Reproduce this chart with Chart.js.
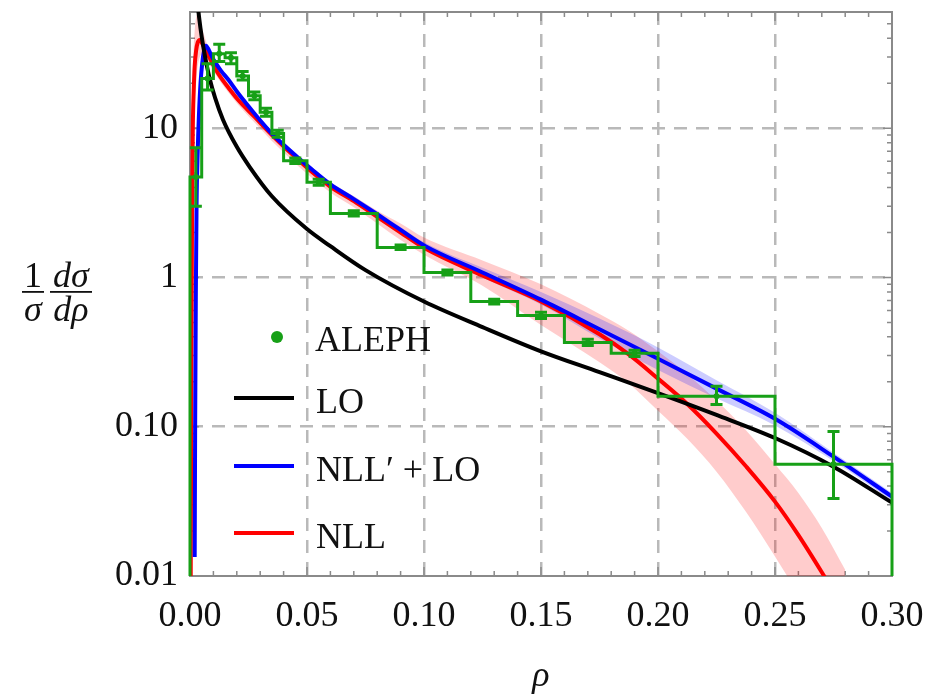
<!DOCTYPE html>
<html>
<head>
<meta charset="utf-8">
<script src="https://cdn.jsdelivr.net/npm/chart.js@4.4.1/dist/chart.umd.min.js"></script>
<style>
  html, body { margin: 0; padding: 0; background: #fff; }
</style>
</head>
<body>
<canvas id="rhoChart" width="937" height="694"></canvas>
<script>
// ALEPH heavy jet mass data (histogram bins)
const alephEdges = [0, 0.005, 0.01, 0.015, 0.02, 0.025, 0.03, 0.035, 0.04, 0.05, 0.06, 0.08, 0.10, 0.12, 0.14, 0.16, 0.18, 0.20, 0.25, 0.30];
const alephValues = [4.7, 21.5, 31.5, 29.6, 22.4, 16.5, 12.8, 9.2, 6.06, 4.34, 2.68, 1.59, 1.08, 0.69, 0.557, 0.367, 0.31, 0.16, 0.056];
const alephErrLow = [3.0, 18, 28, 27, 21, 15.5, 12, 8.7, 5.8, 4.15, 2.58, 1.54, 1.04, 0.665, 0.53, 0.35, 0.295, 0.141, 0.033];
const alephErrHigh = [7.4, 27, 36.5, 32, 24, 17.5, 13.6, 9.7, 6.3, 4.55, 2.8, 1.65, 1.12, 0.715, 0.585, 0.385, 0.325, 0.187, 0.093];

// LO curve
const loRho = [0.002, 0.003, 0.004, 0.005, 0.0064, 0.0084, 0.0107, 0.0141, 0.02, 0.0256, 0.035, 0.05, 0.06, 0.075, 0.1, 0.125, 0.15, 0.175, 0.2, 0.225, 0.25, 0.275, 0.3];
const loValues = [120, 75, 53.5, 41, 30.4, 21.5, 16, 11.4, 7.5, 5.47, 3.5, 2.11, 1.62, 1.12, 0.69, 0.465, 0.32, 0.232, 0.168, 0.12, 0.084, 0.054, 0.031];

// NLL' + LO curve with its uncertainty band
const nllpRho = [0.002, 0.0022, 0.0025, 0.0028, 0.0033, 0.0038, 0.0045, 0.0052, 0.006, 0.0068, 0.0078, 0.0092, 0.0105, 0.0132, 0.0165, 0.0205, 0.0276, 0.035, 0.044, 0.052, 0.06, 0.07, 0.08, 0.09, 0.1, 0.125, 0.15, 0.175, 0.2, 0.225, 0.25, 0.275, 0.3];
const nllpValues = [0.0134, 0.1, 0.8, 3, 7, 12, 20, 27, 33, 35.6, 34, 30.5, 28, 24.3, 21.0, 17.2, 12.5, 9.2, 6.8, 5.3, 4.2, 3.35, 2.65, 2.08, 1.64, 1.08, 0.71, 0.45, 0.285, 0.18, 0.113, 0.063, 0.034];
const nllpLow = [0.0128, 0.096, 0.77, 2.88, 6.7, 11.5, 19.2, 26, 31.7, 34.2, 32.6, 29.3, 26.9, 23.3, 20.2, 16.5, 12.0, 8.8, 6.5, 5.08, 4.02, 3.2, 2.53, 1.98, 1.56, 1.0, 0.66, 0.39, 0.24, 0.155, 0.102, 0.059, 0.032];
const nllpHigh = [0.014, 0.104, 0.83, 3.12, 7.3, 12.5, 20.8, 28, 34.3, 37, 35.4, 31.7, 29.1, 25.3, 21.8, 17.9, 13.0, 9.6, 7.1, 5.52, 4.38, 3.5, 2.77, 2.18, 1.72, 1.16, 0.80, 0.53, 0.34, 0.205, 0.124, 0.067, 0.036];

// NLL curve with its uncertainty band
const nllRho = [0.0003, 0.0006, 0.0009, 0.0012, 0.0016, 0.002, 0.0026, 0.0033, 0.0042, 0.005, 0.006, 0.0077, 0.0105, 0.0132, 0.0165, 0.0205, 0.0276, 0.035, 0.044, 0.052, 0.06, 0.07, 0.08, 0.09, 0.1, 0.125, 0.15, 0.175, 0.1875, 0.2, 0.2125, 0.225, 0.2375, 0.25, 0.26, 0.27, 0.28];
const nllValues = [0.008, 0.3, 3, 10, 18, 26, 33, 37.5, 39, 37.5, 35, 31, 25.5, 21.8, 18.6, 15.5, 11.9, 9, 6.6, 5.1, 4.05, 3.25, 2.55, 2.0, 1.58, 1.03, 0.69, 0.416, 0.305, 0.21, 0.142, 0.09, 0.0545, 0.0315, 0.0188, 0.0106, 0.0058];
const nllLow = [0.003, 0.03, 0.5, 3, 8, 14, 20, 26, 30, 31, 30, 28, 23.5, 20.2, 17.3, 14.4, 10.9, 8.2, 6.0, 4.65, 3.7, 2.95, 2.3, 1.78, 1.42, 0.88, 0.48, 0.27, 0.195, 0.128, 0.083, 0.05, 0.027, 0.0135, 0.0075, 0.004, 0.002];
const nllHigh = [0.03, 2, 10, 22, 35, 45, 55, 58, 55, 48, 42, 35, 28, 23.5, 19.9, 16.6, 12.6, 9.5, 7.0, 5.45, 4.35, 3.5, 2.8, 2.3, 1.85, 1.3, 0.9, 0.57, 0.44, 0.32, 0.225, 0.15, 0.095, 0.056, 0.036, 0.021, 0.011];

// axis ticks
const xTickLabels = ['0.00', '0.05', '0.10', '0.15', '0.20', '0.25', '0.30'];
const yTickValues = [0.01, 0.1, 1, 10];
const yTickLabels = ['0.01', '0.10', '1', '10'];

const alephColor = '#17a017';
const gridColor = 'rgba(185,185,185,1)';
const frameColor = '#8a8a8a';
const serif = '"Liberation Serif", "DejaVu Serif", serif';

function toPoints(xs, ys) {
  return xs.map((x, i) => ({ x: x, y: ys[i] }));
}

// step outline of the histogram, built from the bin edges
const histPoints = [{ x: alephEdges[0], y: 0.005 }];
alephValues.forEach((v, i) => {
  histPoints.push({ x: alephEdges[i], y: v });
  histPoints.push({ x: alephEdges[i + 1], y: v });
});
histPoints.push({ x: alephEdges[alephEdges.length - 1], y: 0.005 });

const alephCenters = alephValues.map((v, i) => ({ x: (alephEdges[i] + alephEdges[i + 1]) / 2, y: v }));

function isDecade(v) {
  const l = Math.log10(v);
  return Math.abs(l - Math.round(l)) < 1e-6;
}

// keep the plot box where the layout padding puts it
function noScalePadding(s) {
  s.paddingTop = 0;
  s.paddingBottom = 0;
  s.paddingLeft = 0;
  s.paddingRight = 0;
}

// frame and inward tick marks
const axisDecor = {
  id: 'axisDecor',
  beforeDatasetsDraw(chart) {
    const { ctx, chartArea: a, scales: { x, y } } = chart;
    ctx.save();
    ctx.strokeStyle = frameColor;
    ctx.lineWidth = 1.5;
    ctx.beginPath();
    for (let i = 1; i < 30; i++) {
      const px = x.getPixelForValue(i / 100);
      const len = i % 5 === 0 ? 9 : 5;
      ctx.moveTo(px, a.bottom); ctx.lineTo(px, a.bottom - len);
      ctx.moveTo(px, a.top); ctx.lineTo(px, a.top + len);
    }
    for (let d = -2; d <= 1; d++) {
      for (let m = 1; m <= 9; m++) {
        const v = m * Math.pow(10, d);
        if (v >= y.max) break;
        const py = y.getPixelForValue(v);
        const len = m === 1 ? 9 : 5;
        ctx.moveTo(a.left, py); ctx.lineTo(a.left + len, py);
        ctx.moveTo(a.right, py); ctx.lineTo(a.right - len, py);
      }
    }
    ctx.stroke();
    ctx.lineWidth = 2;
    ctx.strokeRect(a.left, a.top, a.right - a.left, a.bottom - a.top);
    ctx.restore();
  }
};

// ALEPH error bars
const errorBars = {
  id: 'errorBars',
  afterDatasetsDraw(chart) {
    const { ctx, scales: { x, y } } = chart;
    ctx.save();
    ctx.strokeStyle = alephColor;
    ctx.lineWidth = 3;
    alephValues.forEach((v, i) => {
      const cx = x.getPixelForValue((alephEdges[i] + alephEdges[i + 1]) / 2);
      const yl = y.getPixelForValue(alephErrLow[i]);
      const yh = y.getPixelForValue(alephErrHigh[i]);
      ctx.beginPath();
      ctx.moveTo(cx, yl); ctx.lineTo(cx, yh);
      ctx.moveTo(cx - 6, yl); ctx.lineTo(cx + 6, yl);
      ctx.moveTo(cx - 6, yh); ctx.lineTo(cx + 6, yh);
      ctx.stroke();
    });
    ctx.restore();
  }
};

// legend, axis titles
const labels = {
  id: 'labels',
  afterDraw(chart) {
    const ctx = chart.ctx;
    ctx.save();
    ctx.fillStyle = '#111';
    ctx.textBaseline = 'alphabetic';

    // y title: 1/sigma dsigma/drho
    ctx.textAlign = 'center';
    ctx.font = '36px ' + serif;
    ctx.fillText('1', 33, 287);
    ctx.fillRect(22, 291, 22, 1.8);
    ctx.fillRect(50, 291, 42, 1.8);
    ctx.font = 'italic 36px ' + serif;
    ctx.fillText('σ', 33, 321);
    ctx.fillText('dσ', 71, 287);
    ctx.fillText('dρ', 71, 321);

    // x title
    ctx.fillText('ρ', 541, 686);

    // legend
    ctx.textAlign = 'left';
    ctx.font = '36px ' + serif;
    ctx.fillStyle = alephColor;
    ctx.beginPath();
    ctx.arc(277, 337, 6, 0, Math.PI * 2);
    ctx.fill();
    const rows = [
      { color: '#000', y: 398, text: 'LO', base: 413 },
      { color: '#0000ff', y: 466, text: 'NLL′ + LO', base: 481 },
      { color: '#ff0000', y: 533, text: 'NLL', base: 548 }
    ];
    ctx.lineWidth = 4;
    rows.forEach(r => {
      ctx.strokeStyle = r.color;
      ctx.beginPath();
      ctx.moveTo(234, r.y); ctx.lineTo(294, r.y);
      ctx.stroke();
    });
    ctx.fillStyle = '#111';
    ctx.fillText('ALEPH', 315, 351);
    rows.forEach(r => ctx.fillText(r.text, 316, r.base));
    ctx.restore();
  }
};

const curveOpts = { pointRadius: 0, borderWidth: 4, cubicInterpolationMode: 'monotone', fill: false };
const bandOpts = { pointRadius: 0, borderWidth: 0, cubicInterpolationMode: 'monotone' };

const ctx = document.getElementById('rhoChart').getContext('2d');
const rhoChart = new Chart(ctx, {
  type: 'line',
  data: {
    datasets: [
      { label: 'ALEPH points', data: alephCenters, showLine: false, pointRadius: 3, pointBackgroundColor: alephColor, pointBorderWidth: 0, order: 0 },
      { label: 'ALEPH', data: histPoints, borderColor: alephColor, borderWidth: 3, pointRadius: 0, tension: 0, fill: false, order: 1, clip: { left: 2, right: 4, top: 0, bottom: 0 } },
      { label: 'LO', data: toPoints(loRho, loValues), borderColor: '#000', ...curveOpts, order: 2 },
      { label: "NLL' + LO", data: toPoints(nllpRho, nllpValues), borderColor: '#0000ff', ...curveOpts, order: 3 },
      { label: 'NLL', data: toPoints(nllRho, nllValues), borderColor: '#ff0000', ...curveOpts, order: 4 },
      { label: 'nllp high', data: toPoints(nllpRho, nllpHigh), ...bandOpts, fill: false, order: 5 },
      { label: 'nllp low', data: toPoints(nllpRho, nllpLow), ...bandOpts, fill: '-1', backgroundColor: 'rgba(0,0,255,0.2)', order: 5 },
      { label: 'nll high', data: toPoints(nllRho, nllHigh), ...bandOpts, fill: false, order: 6 },
      { label: 'nll low', data: toPoints(nllRho, nllLow), ...bandOpts, fill: '-1', backgroundColor: 'rgba(255,0,0,0.2)', order: 6 }
    ]
  },
  options: {
    responsive: false,
    animation: false,
    devicePixelRatio: 1,
    layout: { padding: { top: 12, right: 45, left: 0, bottom: 0 } },
    plugins: { legend: { display: false }, tooltip: { enabled: false } },
    scales: {
      x: {
        type: 'linear',
        min: 0,
        max: 0.3,
        afterFit: s => { s.height = 118; noScalePadding(s); },
        ticks: {
          stepSize: 0.05,
          autoSkip: false,
          maxRotation: 0,
          padding: 19,
          color: '#111',
          font: { family: serif, size: 36 },
          callback: (v) => xTickLabels[Math.round(v / 0.05)] ?? ''
        },
        grid: {
          drawTicks: false,
          lineWidth: 2.5,
          color: c => (c.tick && c.tick.value > 0.001 && c.tick.value < 0.299) ? gridColor : 'rgba(0,0,0,0)'
        },
        border: { display: false, dash: [13, 9] }
      },
      y: {
        type: 'logarithmic',
        min: 0.01,
        max: 60,
        afterFit: s => { s.width = 190; noScalePadding(s); },
        ticks: {
          autoSkip: false,
          padding: 12,
          color: '#111',
          font: { family: serif, size: 36 },
          callback: (v) => {
            const k = yTickValues.findIndex(t => Math.abs(t - v) / t < 1e-6);
            return k >= 0 ? yTickLabels[k] : '';
          }
        },
        grid: {
          drawTicks: false,
          lineWidth: 2.5,
          color: c => (c.tick && isDecade(c.tick.value) && c.tick.value > 0.011 && c.tick.value < 59) ? gridColor : 'rgba(0,0,0,0)'
        },
        border: { display: false, dash: [13, 9] }
      }
    }
  },
  plugins: [axisDecor, errorBars, labels]
});
</script>
</body>
</html>
